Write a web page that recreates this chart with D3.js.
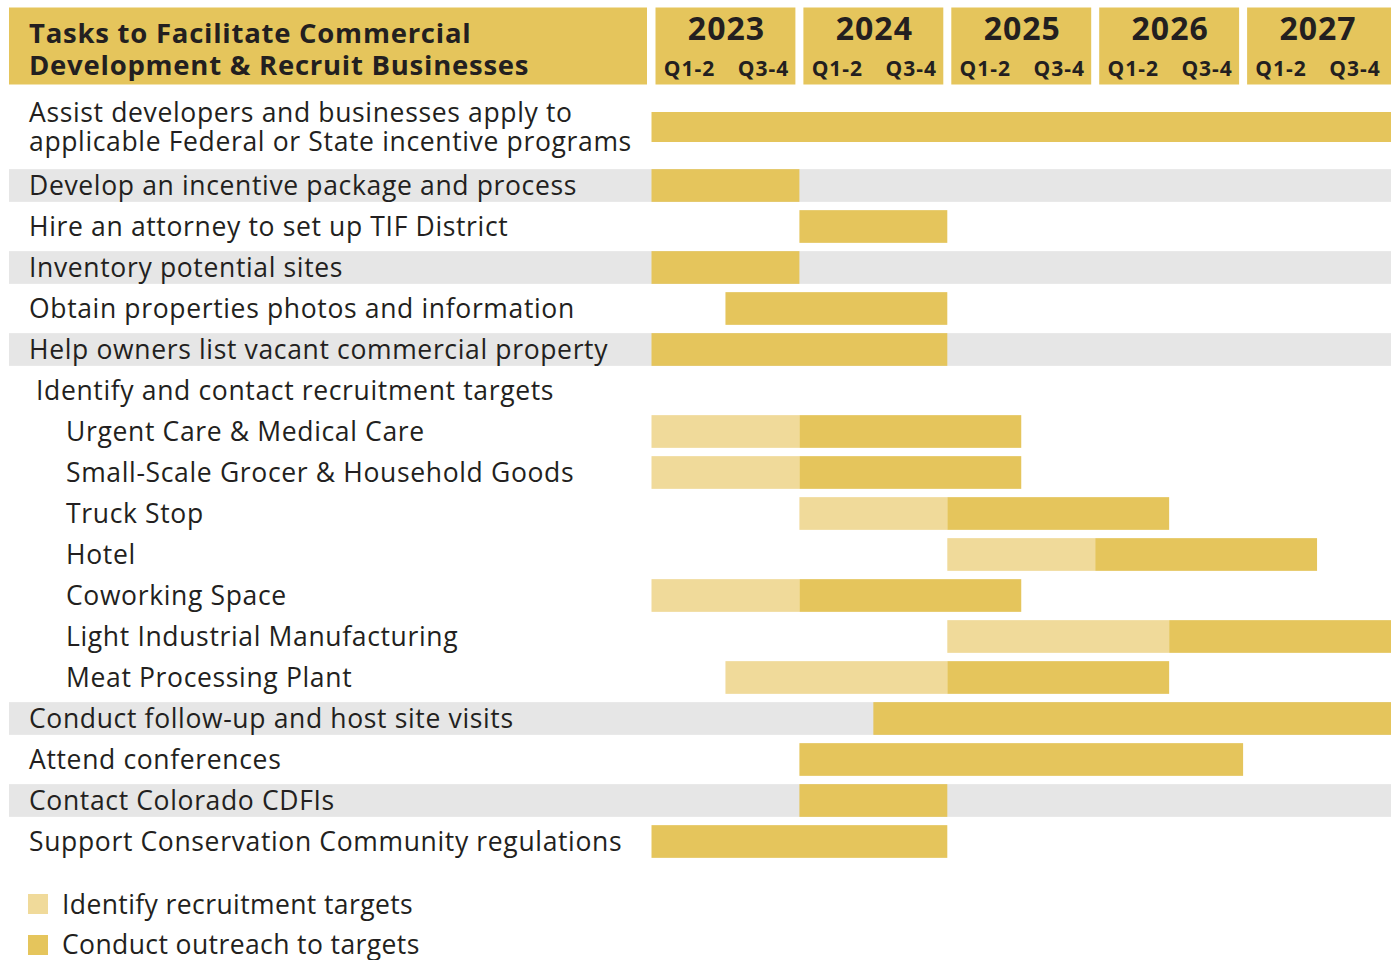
<!DOCTYPE html>
<html>
<head>
<meta charset="utf-8">
<script src="https://cdn.jsdelivr.net/npm/d3@7"></script>
<style>
  html, body { margin: 0; padding: 0; background: #fff; }
  svg { display: block; }
  text { font-family: "Open Sans", "Noto Sans", sans-serif; fill: #231f20; }
</style>
</head>
<body>
<svg id="chart" width="1397" height="960"></svg>
<script>
// Timeline periods (half-years)
const years = ["2023", "2024", "2025", "2026", "2027"];
const halves = ["Q1-2", "Q3-4"];

const headerTitle = ["Tasks to Facilitate Commercial", "Development & Recruit Businesses"];

// Tasks, top to bottom
const taskLabels = [
  ["Assist developers and businesses apply to", "applicable Federal or State incentive programs"],
  ["Develop an incentive package and process"],
  ["Hire an attorney to set up TIF District"],
  ["Inventory potential sites"],
  ["Obtain properties photos and information"],
  ["Help owners list vacant commercial property"],
  ["Identify and contact recruitment targets"],
  ["Urgent Care & Medical Care"],
  ["Small-Scale Grocer & Household Goods"],
  ["Truck Stop"],
  ["Hotel"],
  ["Coworking Space"],
  ["Light Industrial Manufacturing"],
  ["Meat Processing Plant"],
  ["Conduct follow-up and host site visits"],
  ["Attend conferences"],
  ["Contact Colorado CDFIs"],
  ["Support Conservation Community regulations"]
];
const taskLevel = [0, 0, 0, 0, 0, 0, 1, 2, 2, 2, 2, 2, 2, 2, 0, 0, 0, 0];
const taskShaded = [false, true, false, true, false, true, false, false, false, false, false, false, false, false, true, false, true, false];

// Phase spans in half-year units from 2023 Q1-2 (start, end); null = no phase
const identifySpan = [null, null, null, null, null, null, null,
  [0, 2], [0, 2], [2, 4], [4, 6], [0, 2], [4, 7], [1, 4],
  null, null, null, null];
const outreachSpan = [[0, 10], [0, 2], [2, 4], [0, 2], [1, 4], [0, 4], null,
  [2, 5], [2, 5], [4, 7], [6, 9], [2, 5], [7, 10], [4, 7],
  [3, 10], [2, 8], [2, 4], [0, 4]];

const legendItems = ["Identify recruitment targets", "Conduct outreach to targets"];

const colorOutreach = "#e5c55c";
const colorIdentify = "#f0da9a";
const colorShade = "#e6e6e6";

const svg = d3.select("#chart");
const nPeriods = years.length * halves.length;
const x = d3.scaleLinear().domain([0, nPeriods]).range([651.5, 1391]);

// Row geometry
const firstCenter = 127;
const secondCenter = 185.5;
const rowStep = 41;
const rowCenter = i => i === 0 ? firstCenter : secondCenter + (i - 1) * rowStep;
const barH = i => i === 0 ? 30 : 32.7;
const labelX = [29, 36, 66];
const fontSize = 26.5;
const letterSp = 0.65;
const capShift = 9.5;
const lineGap = 29;

// Header
const header = svg.append("g");
header.append("rect").attr("x", 9).attr("y", 7.5).attr("width", 638).attr("height", 77)
  .attr("fill", colorOutreach);
const title = header.append("text")
  .attr("x", 29).attr("y", 43)
  .attr("font-size", 27.5).attr("font-weight", 700).attr("letter-spacing", 0.75);
title.selectAll("tspan").data(headerTitle).join("tspan")
  .attr("x", 29).attr("dy", (d, i) => i === 0 ? 0 : 32)
  .text(d => d);

years.forEach((yr, k) => {
  const x0 = x(k * 2) + 4;
  const x1 = k === years.length - 1 ? x(k * 2 + 2) : x(k * 2 + 2) - 4;
  header.append("rect").attr("x", x0).attr("y", 7.5).attr("width", x1 - x0).attr("height", 77)
    .attr("fill", colorOutreach);
  header.append("text").attr("x", x(k * 2 + 1) + 1).attr("y", 40)
    .attr("text-anchor", "middle").attr("font-size", 32).attr("font-weight", 700)
    .attr("letter-spacing", 1)
    .text(yr);
  halves.forEach((h, j) => {
    header.append("text").attr("x", x(k * 2 + j + 0.5) + 1).attr("y", 76)
      .attr("text-anchor", "middle").attr("font-size", 21).attr("font-weight", 700)
      .attr("letter-spacing", 1)
      .text(h);
  });
});

// Shaded row bands
const rows = svg.append("g");
rows.selectAll("rect.shade").data(taskLabels.map((d, i) => i).filter(i => taskShaded[i])).join("rect")
  .attr("class", "shade")
  .attr("x", 9).attr("width", 1391 - 9)
  .attr("y", i => rowCenter(i) - barH(i) / 2).attr("height", i => barH(i))
  .attr("fill", colorShade);

// Phase bars
const drawSpans = (spans, color, cls) => {
  rows.selectAll("rect." + cls)
    .data(spans.map((s, i) => ({ s, i })).filter(d => d.s))
    .join("rect")
    .attr("class", cls)
    .attr("x", d => x(d.s[0]))
    .attr("width", d => x(d.s[1]) - x(d.s[0]))
    .attr("y", d => rowCenter(d.i) - barH(d.i) / 2)
    .attr("height", d => barH(d.i))
    .attr("fill", color);
};
drawSpans(identifySpan, colorIdentify, "identify");
drawSpans(outreachSpan, colorOutreach, "outreach");

// Task labels (multi-line labels stacked around the row centre)
const labels = rows.selectAll("text.label").data(taskLabels).join("text")
  .attr("class", "label")
  .attr("font-size", fontSize)
  .attr("letter-spacing", letterSp)
  .attr("x", (d, i) => labelX[taskLevel[i]])
  .attr("y", (d, i) => rowCenter(i) + capShift - (d.length - 1) / 2 * lineGap);
labels.each(function (lines, i) {
  d3.select(this).selectAll("tspan").data(lines).join("tspan")
    .attr("x", labelX[taskLevel[i]])
    .attr("dy", (d, j) => j === 0 ? 0 : lineGap)
    .text(d => d);
});

// Legend
const legend = svg.append("g");
legendItems.forEach((t, i) => {
  legend.append("rect").attr("x", 28).attr("y", 894 + i * 41).attr("width", 20).attr("height", 20)
    .attr("fill", i === 0 ? colorIdentify : colorOutreach);
  legend.append("text").attr("x", 62).attr("y", 914 + i * 39.5)
    .attr("font-size", fontSize).attr("letter-spacing", 0.4).text(t);
});
</script>
</body>
</html>
